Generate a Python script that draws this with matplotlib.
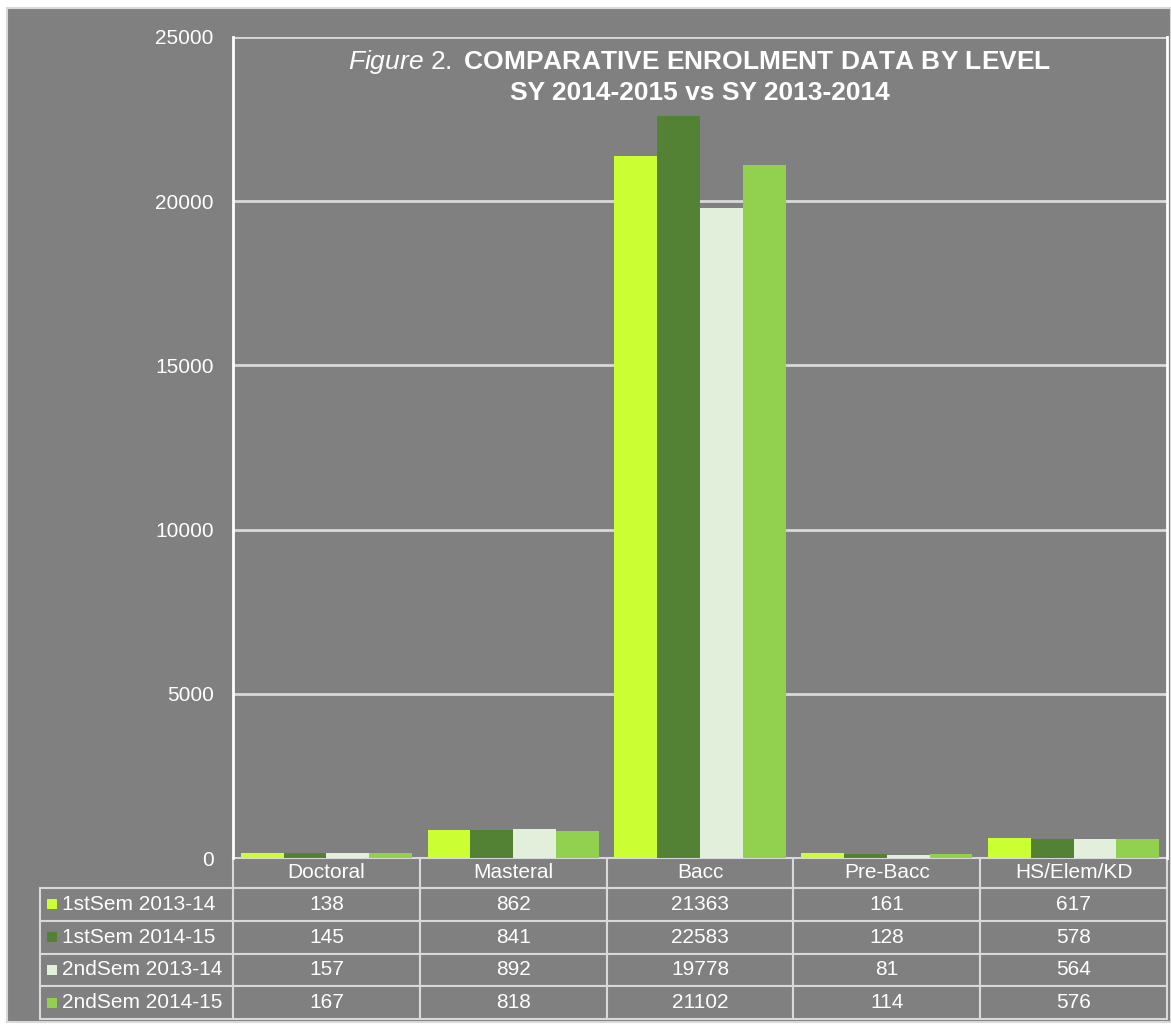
import matplotlib.pyplot as plt
from matplotlib.patches import Rectangle

plt.rcParams['font.family'] = ['Liberation Sans', 'DejaVu Sans']
plt.rcParams['mathtext.fontset'] = 'custom'
plt.rcParams['mathtext.rm'] = 'Liberation Sans'
plt.rcParams['mathtext.it'] = 'Liberation Sans:italic'

# data
levels = ['Doctoral', 'Masteral', 'Bacc', 'Pre-Bacc', 'HS/Elem/KD']
series = ['1stSem 2013-14', '1stSem 2014-15', '2ndSem 2013-14', '2ndSem 2014-15']
sem1_1314 = [138, 862, 21363, 161, 617]
sem1_1415 = [145, 841, 22583, 128, 578]
sem2_1314 = [157, 892, 19778, 81, 564]
sem2_1415 = [167, 818, 21102, 114, 576]
values = [sem1_1314, sem1_1415, sem2_1314, sem2_1415]
colors = ['#ccff33', '#548235', '#e2efda', '#92d050']
yticks = [0, 5000, 10000, 15000, 20000, 25000]

bg = '#808080'
line_c = '#d9d9d9'
W, H = 1171, 1026

fig = plt.figure(figsize=(W / 100, H / 100), dpi=100)
fig.patch.set_facecolor('white')
fig.patches.append(Rectangle((7 / W, 4 / H), (W - 7) / W, (H - 12) / H,
                             transform=fig.transFigure, facecolor=bg,
                             edgecolor=line_c, lw=1.5, zorder=-10))

ax = fig.add_axes([233 / W, 1 - 858 / H, 934 / W, 821 / H])
ax.set_facecolor(bg)

x = range(len(levels))
bw = 0.229
for i, (vals, c) in enumerate(zip(values, colors)):
    ax.bar([k + (i - 1.5) * bw for k in x], vals, width=bw, color=c, zorder=3)

ax.set_xlim(-0.5, 4.5)
ax.set_ylim(0, 25000)
ax.set_yticks(yticks)
ax.set_yticklabels([str(t) for t in yticks])
ax.set_xticks([])
ax.tick_params(axis='y', length=0, pad=14, labelsize=15, labelcolor='white')
ax.grid(axis='y', color=line_c, lw=2, zorder=1)
ax.set_axisbelow(True)
for s in ['top', 'bottom']:
    ax.spines[s].set_visible(False)
for s in ['left', 'right']:
    ax.spines[s].set_color('white')
    ax.spines[s].set_linewidth(2)

ax.text(0.5, 1 - (69 - 37) / 821,
        r'$\mathit{Figure\ 2}\mathrm{.\ }$COMPARATIVE ENROLMENT DATA BY LEVEL',
        transform=ax.transAxes, ha='center', va='baseline', color='white',
        fontsize=19, fontweight='bold')
ax.text(0.5, 1 - (100 - 37) / 821, 'SY 2014-2015 vs SY 2013-2014',
        transform=ax.transAxes, ha='center', va='baseline', color='white',
        fontsize=19, fontweight='bold')

# data table
cell_text = [[s] + [str(v) for v in vals] for s, vals in zip(series, values)]
lab_w = 193 / 1127
col_w = (1 - lab_w) / 5
tab = ax.table(cellText=cell_text, colLabels=[''] + levels,
               colWidths=[lab_w] + [col_w] * 5, cellLoc='center',
               bbox=[-193 / 934, -161 / 821, 1127 / 934, 161 / 821])
tab.auto_set_font_size(False)
tab.set_fontsize(15)
for (r, c), cell in tab.get_celld().items():
    cell.set_facecolor(bg)
    cell.set_edgecolor(line_c)
    cell.set_linewidth(1.5)
    cell.get_text().set_color('white')
    if r == 0:
        cell.set_height(30)
    else:
        cell.set_height(32.75)
    if c == 0:
        cell.get_text().set_ha('left')
        cell._loc = 'left'
        cell.PAD = 0.115
        if r == 0:
            cell.visible_edges = ''

fig.canvas.draw()
sq_w = 10 / 934
sq_h = 10 / 821
for r in range(1, len(series) + 1):
    cell = tab[r, 0]
    cx, cy, ch = cell.get_x(), cell.get_y(), cell.get_height()
    ax.add_patch(Rectangle((cx + 7 / 934, cy + ch / 2 - sq_h / 2), sq_w, sq_h,
                           transform=ax.transAxes, facecolor=colors[r - 1],
                           edgecolor='none', clip_on=False, zorder=5))

fig.savefig('out.png', dpi=100, facecolor=fig.get_facecolor())
